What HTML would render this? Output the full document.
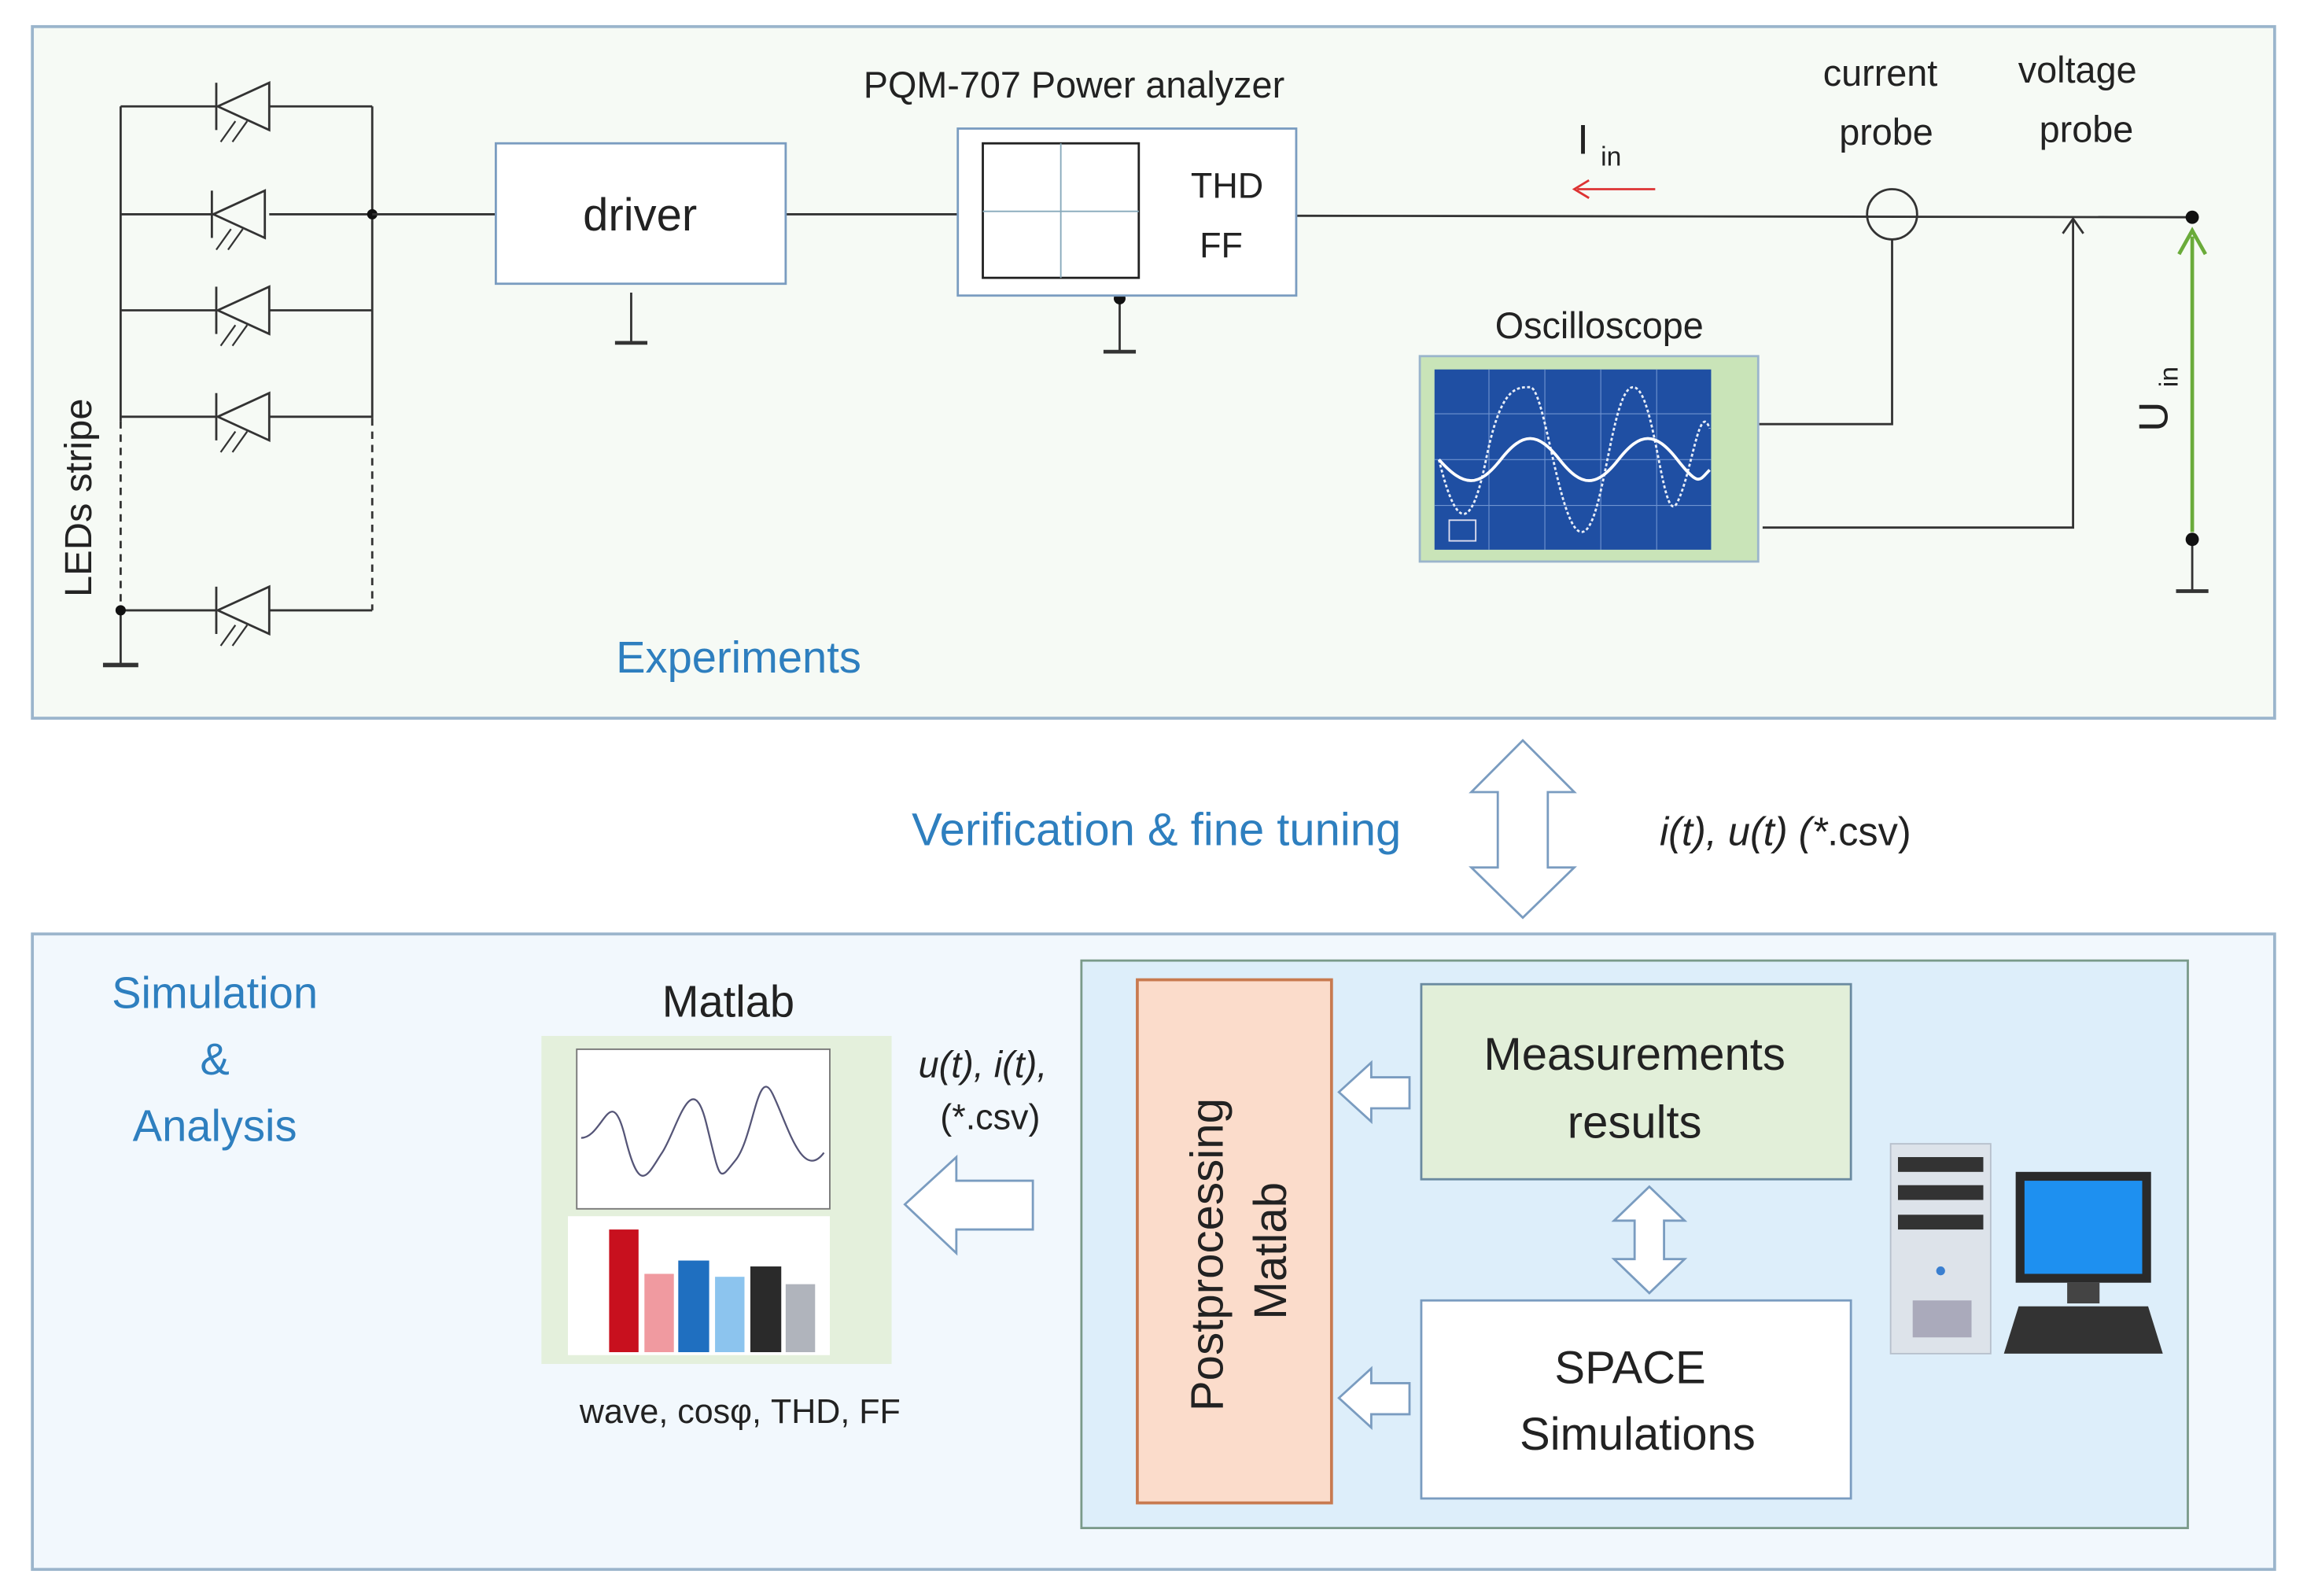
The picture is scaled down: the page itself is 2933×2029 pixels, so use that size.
<!DOCTYPE html>
<html><head><meta charset="utf-8"><style>
html,body{margin:0;padding:0;background:#fff;}
svg{display:block;}
text{font-family:"Liberation Sans","DejaVu Sans",sans-serif;}
</style></head><body>
<svg width="2933" height="2029" viewBox="0 0 1568 1080" preserveAspectRatio="none" xmlns="http://www.w3.org/2000/svg">
<defs>
<g id="led">
 <polygon points="183,-16 183,16 148,0" fill="none" stroke="#333" stroke-width="1.5"/>
 <line x1="147" y1="-16" x2="147" y2="16" stroke="#333" stroke-width="1.5"/>
 <line x1="160" y1="10" x2="150" y2="24" stroke="#333" stroke-width="1.2"/>
 <line x1="168" y1="10" x2="158" y2="24" stroke="#333" stroke-width="1.2"/>
</g>
</defs>
<rect width="1568" height="1080" fill="#fff"/>
<!-- top panel -->
<rect x="22" y="18" width="1524" height="468" fill="#f6faf5" stroke="#9bb5cc" stroke-width="2"/>
<!-- bottom panel -->
<rect x="22" y="632" width="1524" height="430" fill="#f2f8fd" stroke="#9bb5cc" stroke-width="2"/>

<!-- LEDs -->
<g stroke="#333" stroke-width="1.5" fill="none">
 <line x1="82" y1="72" x2="82" y2="285"/>
 <line x1="253" y1="72" x2="253" y2="283"/>
 <line x1="82" y1="285" x2="82" y2="413" stroke-dasharray="5,4"/>
 <line x1="253" y1="283" x2="253" y2="413" stroke-dasharray="5,4"/>
 <line x1="82" y1="413" x2="82" y2="450"/>
 <line x1="70" y1="450" x2="94" y2="450" stroke-width="3"/>
 <line x1="82" y1="72" x2="147" y2="72"/><line x1="183" y1="72" x2="253" y2="72"/>
 <line x1="82" y1="145" x2="147" y2="145"/><line x1="183" y1="145" x2="253" y2="145"/>
 <line x1="82" y1="210" x2="147" y2="210"/><line x1="183" y1="210" x2="253" y2="210"/>
 <line x1="82" y1="282" x2="147" y2="282"/><line x1="183" y1="282" x2="253" y2="282"/>
 <line x1="82" y1="413" x2="147" y2="413"/><line x1="183" y1="413" x2="253" y2="413"/>
</g>
<use href="#led" transform="translate(0,72)"/>
<use href="#led" transform="translate(-3,145)"/>
<use href="#led" transform="translate(0,210)"/>
<use href="#led" transform="translate(0,282)"/>
<use href="#led" transform="translate(0,413)"/>
<circle cx="253" cy="145" r="3.5" fill="#111"/>
<circle cx="82" cy="413" r="3.5" fill="#111"/>
<text transform="translate(62,404) rotate(-90)" font-size="26" fill="#222">LEDs  stripe</text>

<!-- main line -->
<g stroke="#333" stroke-width="1.5" fill="none">
 <line x1="253" y1="145" x2="337" y2="145"/>
 <line x1="534" y1="145" x2="651" y2="145"/>
 <line x1="881" y1="146" x2="1490" y2="147"/>
 <line x1="429" y1="198" x2="429" y2="232"/><line x1="418" y1="232" x2="440" y2="232" stroke-width="2.5"/>
 <line x1="761" y1="202" x2="761" y2="238"/><line x1="750" y1="238" x2="772" y2="238" stroke-width="2.5"/>
 <circle cx="1286" cy="145" r="17"/>
 <polyline points="1286,162 1286,287 1195,287"/>
 <polyline points="1409,148 1409,357 1198,357"/>
 <polyline points="1402,158 1409,148 1416,158"/>
 <line x1="1490" y1="365" x2="1490" y2="400"/><line x1="1479" y1="400" x2="1501" y2="400" stroke-width="2.5"/>
</g>
<circle cx="761" cy="202" r="4" fill="#111"/>
<circle cx="1490" cy="147" r="4.5" fill="#111"/>
<circle cx="1490" cy="365" r="4.5" fill="#111"/>
<line x1="1490" y1="360" x2="1490" y2="160" stroke="#6aab3a" stroke-width="2.5"/>
<polyline points="1481,172 1490,156 1499,172" fill="none" stroke="#6aab3a" stroke-width="2.5"/>
<line x1="1072" y1="128" x2="1125" y2="128" stroke="#d33" stroke-width="1.5"/>
<polyline points="1080,122 1070,128 1080,134" fill="none" stroke="#d33" stroke-width="1.5"/>

<!-- driver -->
<rect x="337" y="97" width="197" height="95" fill="#fff" stroke="#7a9cc0" stroke-width="1.5"/>
<text x="435" y="156" font-size="31" text-anchor="middle" fill="#222">driver</text>
<!-- PQM -->
<text x="730" y="66" font-size="25" text-anchor="middle" fill="#222">PQM-707  Power analyzer</text>
<rect x="651" y="87" width="230" height="113" fill="#fff" stroke="#7a9cc0" stroke-width="1.5"/>
<rect x="668" y="97" width="106" height="91" fill="#fff" stroke="#222" stroke-width="1.5"/>
<line x1="721" y1="97" x2="721" y2="188" stroke="#8ab" stroke-width="1"/>
<line x1="668" y1="143" x2="774" y2="143" stroke="#8ab" stroke-width="1"/>
<text x="834" y="134" font-size="24" text-anchor="middle" fill="#222">THD</text>
<text x="830" y="174" font-size="24" text-anchor="middle" fill="#222">FF</text>
<!-- labels -->
<text x="1278" y="58" font-size="25" text-anchor="middle" fill="#222">current</text>
<text x="1282" y="98" font-size="25" text-anchor="middle" fill="#222">probe</text>
<text x="1412" y="56" font-size="25" text-anchor="middle" fill="#222">voltage</text>
<text x="1418" y="96" font-size="25" text-anchor="middle" fill="#222">probe</text>
<text x="1072" y="104" font-size="28" fill="#222">I</text><text x="1088" y="112" font-size="18" fill="#222">in</text>
<text transform="translate(1473,292) rotate(-90)" font-size="28" fill="#222">U</text>
<text transform="translate(1480,262) rotate(-90)" font-size="18" fill="#222">in</text>
<!-- oscilloscope -->
<text x="1087" y="229" font-size="25" text-anchor="middle" fill="#222">Oscilloscope</text>
<rect x="965" y="241" width="230" height="139" fill="#c9e4b8" stroke="#9bb5cc" stroke-width="1.5"/>
<rect x="975" y="250" width="188" height="122" fill="#1f4fa3"/>
<g stroke="#6f93d0" stroke-width="0.6">
 <line x1="975" y1="280" x2="1163" y2="280"/><line x1="975" y1="311" x2="1163" y2="311"/><line x1="975" y1="342" x2="1163" y2="342"/>
 <line x1="1012" y1="250" x2="1012" y2="372"/><line x1="1050" y1="250" x2="1050" y2="372"/><line x1="1088" y1="250" x2="1088" y2="372"/><line x1="1126" y1="250" x2="1126" y2="372"/>
</g>
<path d="M978,311 C990,360 1000,360 1010,311 S1030,262 1040,262 S1060,360 1075,360 S1095,262 1110,262 S1130,360 1140,340 S1155,270 1162,290" fill="none" stroke="#e8eef8" stroke-width="1.5" stroke-dasharray="2,1.5"/>
<path d="M978,311 C995,330 1005,330 1020,311 S1045,292 1060,311 S1085,330 1100,311 S1125,292 1140,311 S1155,325 1162,318" fill="none" stroke="#fff" stroke-width="2"/>
<rect x="985" y="352" width="18" height="14" fill="none" stroke="#dde" stroke-width="1"/>
<text x="502" y="455" font-size="30" text-anchor="middle" fill="#2e7fbf">Experiments</text>

<!-- middle -->
<text x="786" y="572" font-size="31" text-anchor="middle" fill="#2e7fbf">Verification &amp; fine tuning</text>
<polygon points="1035,501 1070,536 1052,536 1052,587 1070,587 1035,621 1000,587 1018,587 1018,536 1000,536" fill="#fff" stroke="#7a9cc0" stroke-width="1.5"/>
<text x="1128" y="572" font-size="27" font-family="Liberation Serif" font-style="italic" fill="#222">i(t),  u(t)  (*<tspan font-style="normal" font-family="Liberation Sans">.csv)</tspan></text>

<!-- bottom -->
<text x="146" y="682" font-size="30" text-anchor="middle" fill="#2e7fbf">Simulation</text>
<text x="146" y="727" font-size="30" text-anchor="middle" fill="#2e7fbf">&amp;</text>
<text x="146" y="772" font-size="30" text-anchor="middle" fill="#2e7fbf">Analysis</text>
<text x="495" y="688" font-size="30" text-anchor="middle" fill="#222">Matlab</text>
<rect x="368" y="701" width="238" height="222" fill="#e4f0dc"/>
<rect x="392" y="710" width="172" height="108" fill="#fff" stroke="#777" stroke-width="1"/>
<path d="M395,770 C410,770 415,730 425,770 S440,795 450,780 S470,720 480,760 S488,800 500,785 S515,720 525,740 S545,800 560,780" fill="none" stroke="#557" stroke-width="1.2"/>
<rect x="386" y="823" width="178" height="94" fill="#fff"/>
<rect x="414" y="832" width="20" height="83" fill="#c8101e"/>
<rect x="438" y="862" width="20" height="53" fill="#f09aa0"/>
<rect x="461" y="853" width="21" height="62" fill="#1f6fc0"/>
<rect x="486" y="864" width="20" height="51" fill="#8cc4ee"/>
<rect x="510" y="857" width="21" height="58" fill="#2a2a2a"/>
<rect x="534" y="869" width="20" height="46" fill="#b0b4bc"/>
<text x="503" y="963" font-size="23" text-anchor="middle" fill="#222">wave, cosφ, THD, FF</text>
<text x="668" y="729" font-size="25" text-anchor="middle" font-family="Liberation Serif" font-style="italic" fill="#222">u(t), i(t),</text>
<text x="673" y="764" font-size="24" text-anchor="middle" fill="#222">(*.csv)</text>
<polygon points="615,815 650,783 650,799 702,799 702,832 650,832 650,848" fill="#fff" stroke="#7a9cc0" stroke-width="1.5"/>

<rect x="735" y="650" width="752" height="384" fill="#ddeefa" stroke="#7a9a8a" stroke-width="1.5"/>
<rect x="773" y="663" width="132" height="354" fill="#fbdccb" stroke="#c87a50" stroke-width="2"/>
<text transform="translate(831,955) rotate(-90)" font-size="31" fill="#222">Postprocessing</text>
<text transform="translate(874,893) rotate(-90)" font-size="31" fill="#222">Matlab</text>
<rect x="966" y="666" width="292" height="132" fill="#e2efd9" stroke="#6a8aa0" stroke-width="1.5"/>
<text x="1111" y="724" font-size="31" text-anchor="middle" fill="#222">Measurements</text>
<text x="1111" y="770" font-size="31" text-anchor="middle" fill="#222">results</text>
<rect x="966" y="880" width="292" height="134" fill="#fff" stroke="#7a9cc0" stroke-width="1.5"/>
<text x="1108" y="936" font-size="31" text-anchor="middle" fill="#222">SPACE</text>
<text x="1113" y="981" font-size="31" text-anchor="middle" fill="#222">Simulations</text>
<polygon points="910,739 932,719 932,729 958,729 958,750 932,750 932,759" fill="#fff" stroke="#7a9cc0" stroke-width="1.5"/>
<polygon points="910,946 932,926 932,936 958,936 958,957 932,957 932,966" fill="#fff" stroke="#7a9cc0" stroke-width="1.5"/>
<polygon points="1121,803 1145,826 1131,826 1131,852 1145,852 1121,875 1097,852 1111,852 1111,826 1097,826" fill="#fff" stroke="#7a9cc0" stroke-width="1.5"/>
<!-- computer -->
<rect x="1285" y="774" width="68" height="142" fill="#dde3ea" stroke="#b7c0cc"/>
<rect x="1290" y="783" width="58" height="10" fill="#333"/>
<rect x="1290" y="802" width="58" height="10" fill="#333"/>
<rect x="1290" y="822" width="58" height="10" fill="#333"/>
<circle cx="1319" cy="860" r="3" fill="#3a7fd0"/>
<rect x="1300" y="880" width="40" height="25" fill="#aab"/>
<rect x="1370" y="793" width="92" height="75" fill="#2a2a2a"/>
<rect x="1376" y="799" width="80" height="63" fill="#1e90f0"/>
<rect x="1405" y="868" width="22" height="14" fill="#444"/>
<polygon points="1372,884 1460,884 1470,916 1362,916" fill="#333"/>
</svg>
</body></html>
